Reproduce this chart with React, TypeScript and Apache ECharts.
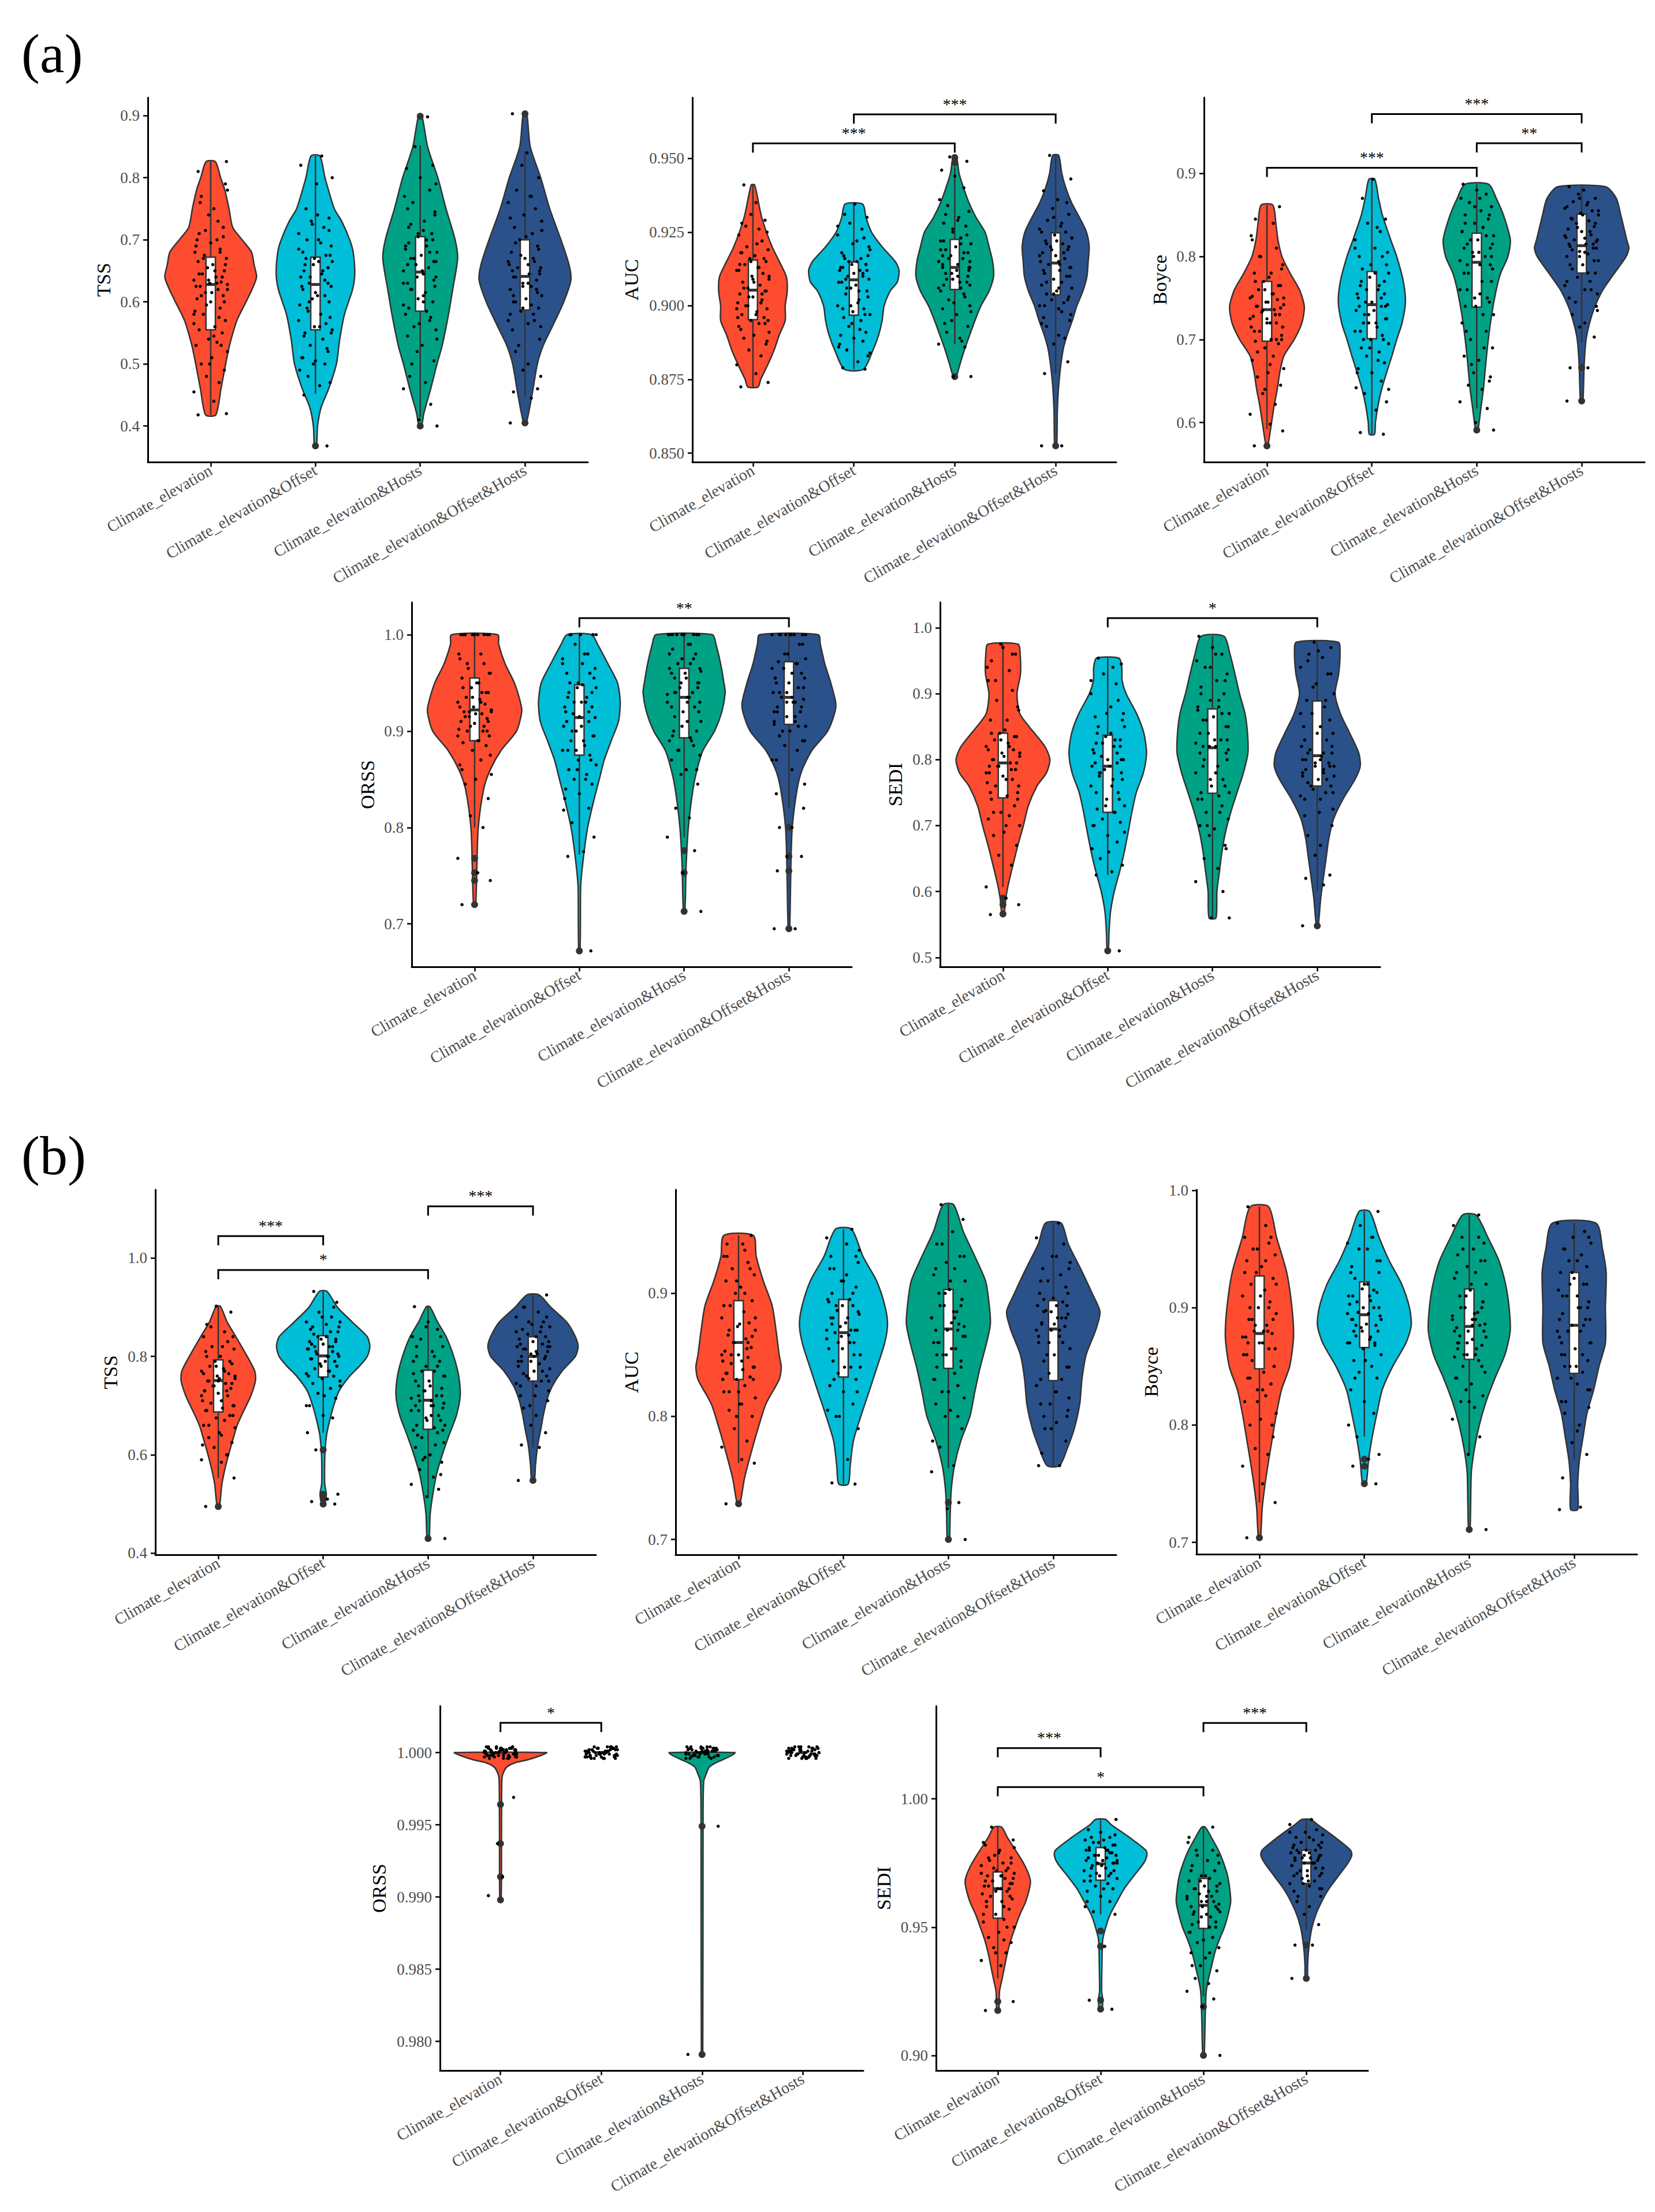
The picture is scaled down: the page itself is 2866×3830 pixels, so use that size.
import React, { useEffect, useRef } from "react";
import * as echarts from "echarts";

const CATEGORIES = [
  "Climate_elevation",
  "Climate_elevation&Offset",
  "Climate_elevation&Hosts",
  "Climate_elevation&Offset&Hosts",
];
const FILLS = ["#FD4C2F", "#00BED8", "#00A285", "#2A5189"];
const FONT = "Liberation Serif";

// fixed jitter offsets (category units)
const JITTER = [-0.12, 0.15, 0.03, -0.16, 0.08, -0.04, 0.13, -0.09, 0.01, 0.16, -0.14, 0.06, -0.02, 0.11, -0.11, 0.04, 0.14, -0.07, -0.15, 0.09, 0.0, -0.13, 0.12, -0.05, 0.07, -0.1, 0.16, -0.01, 0.1, -0.16, 0.05, -0.08, 0.13, -0.03, 0.02, -0.12, 0.15, -0.06, 0.09, -0.14, 0.06, -0.11, 0.12, -0.02, 0.03, -0.09, 0.14];

// ---------- violin profiles: [value, half-width in category units] ----------
const VIOLIN_A1 = [
  [[.418,.049],[.46,.098],[.50,.143],[.53,.18],[.57,.25],[.60,.337],[.62,.394],[.64,.438],[.66,.414],[.68,.39],[.70,.30],[.72,.21],[.75,.175],[.78,.135],[.80,.095],[.826,.044]],
  [[.368,.01],[.40,.02],[.43,.054],[.46,.126],[.50,.20],[.54,.232],[.58,.277],[.62,.354],[.645,.375],[.68,.36],[.70,.327],[.73,.25],[.75,.18],[.80,.091],[.835,.042]],
  [[.40,.013],[.42,.034],[.46,.10],[.50,.16],[.53,.21],[.58,.27],[.62,.31],[.67,.357],[.70,.333],[.75,.246],[.80,.168],[.85,.07],[.899,.017]],
  [[.405,.013],[.45,.067],[.50,.118],[.53,.175],[.56,.26],[.60,.37],[.635,.438],[.66,.42],[.70,.343],[.75,.236],[.80,.15],[.85,.05],[.903,.017]],
];
const VIOLIN_A2 = [
  [[.8725,.052],[.875,.077],[.88,.147],[.885,.21],[.89,.26],[.895,.32],[.90,.32],[.905,.34],[.91,.33],[.92,.19],[.93,.087],[.941,.017]],
  [[.8785,.095],[.885,.19],[.89,.245],[.895,.28],[.90,.30],[.905,.36],[.908,.43],[.912,.448],[.915,.41],[.92,.28],[.925,.175],[.93,.12],[.9345,.087]],
  [[.876,.014],[.88,.05],[.885,.095],[.89,.147],[.895,.20],[.90,.26],[.905,.34],[.91,.385],[.915,.375],[.92,.34],[.925,.30],[.93,.21],[.935,.14],[.94,.087],[.945,.042],[.9505,.017]],
  [[.8525,.01],[.865,.017],[.875,.035],[.885,.073],[.89,.113],[.895,.165],[.90,.21],[.905,.27],[.91,.31],[.915,.322],[.92,.332],[.925,.305],[.93,.235],[.935,.157],[.94,.10],[.945,.06],[.951,.03]],
];
const VIOLIN_A3 = [
  [[.572,.007],[.58,.02],[.60,.044],[.62,.068],[.64,.098],[.66,.122],[.68,.16],[.70,.26],[.72,.333],[.74,.356],[.76,.31],[.78,.22],[.80,.143],[.82,.105],[.84,.085],[.862,.056]],
  [[.586,.025],[.60,.034],[.62,.058],[.64,.093],[.66,.14],[.68,.19],[.70,.237],[.72,.288],[.745,.32],[.77,.30],[.80,.237],[.82,.18],[.85,.10],[.87,.064],[.893,.028]],
  [[.591,.01],[.60,.022],[.62,.042],[.64,.063],[.67,.085],[.70,.11],[.73,.142],[.76,.186],[.78,.228],[.80,.297],[.82,.32],[.85,.254],[.87,.186],[.887,.113]],
  [[.626,.01],[.64,.017],[.67,.024],[.70,.042],[.72,.076],[.74,.127],[.76,.203],[.78,.313],[.80,.424],[.81,.45],[.82,.43],[.85,.373],[.87,.33],[.884,.228]],
];
const VIOLIN_A4 = [
  [[.72,.01],[.76,.022],[.80,.035],[.84,.087],[.86,.15],[.88,.253],[.90,.40],[.92,.45],[.93,.437],[.95,.38],[.97,.29],[.99,.23],[1.0,.22]],
  [[.672,.006],[.70,.01],[.74,.013],[.77,.04],[.80,.079],[.83,.142],[.85,.19],[.87,.237],[.89,.304],[.91,.373],[.93,.39],[.95,.364],[.97,.272],[.99,.174],[1.0,.118]],
  [[.713,.006],[.73,.013],[.76,.019],[.80,.04],[.84,.085],[.86,.123],[.88,.18],[.90,.29],[.92,.36],[.94,.392],[.95,.38],[.97,.348],[.99,.304],[1.0,.27]],
  [[.695,.006],[.72,.013],[.76,.019],[.80,.032],[.84,.079],[.86,.127],[.88,.22],[.90,.37],[.92,.44],[.93,.446],[.95,.40],[.97,.342],[.99,.30],[1.0,.28]],
];
const VIOLIN_A5 = [
  [[.565,.01],[.59,.027],[.61,.05],[.64,.095],[.67,.142],[.70,.195],[.73,.242],[.76,.325],[.78,.415],[.80,.448],[.82,.40],[.85,.25],[.87,.16],[.90,.134],[.93,.167],[.96,.164],[.975,.145]],
  [[.51,.006],[.54,.013],[.57,.027],[.60,.062],[.63,.113],[.66,.158],[.69,.195],[.72,.23],[.75,.272],[.78,.34],[.81,.37],[.84,.345],[.87,.275],[.90,.175],[.92,.137],[.94,.134],[.954,.107]],
  [[.56,.033],[.60,.042],[.63,.066],[.66,.09],[.69,.124],[.72,.174],[.75,.234],[.78,.295],[.81,.338],[.84,.334],[.87,.31],[.90,.258],[.93,.214],[.96,.167],[.987,.11]],
  [[.548,.007],[.56,.017],[.59,.033],[.62,.058],[.65,.084],[.68,.11],[.71,.155],[.74,.245],[.77,.36],[.79,.41],[.81,.396],[.84,.31],[.87,.22],[.90,.17],[.93,.204],[.96,.217],[.978,.20]],
];
const VIOLIN_B1 = [
  [[.495,.01],[.51,.02],[.54,.034],[.57,.062],[.60,.098],[.63,.138],[.66,.18],[.69,.244],[.72,.31],[.75,.354],[.77,.348],[.80,.276],[.84,.168],[.87,.084],[.902,.02]],
  [[.50,.013],[.52,.03],[.54,.015],[.56,.013],[.60,.016],[.64,.032],[.67,.062],[.70,.10],[.73,.152],[.76,.253],[.78,.345],[.80,.42],[.82,.445],[.84,.42],[.87,.276],[.90,.135],[.932,.037]],
  [[.43,.01],[.48,.02],[.52,.045],[.56,.08],[.60,.135],[.64,.20],[.68,.27],[.72,.306],[.76,.292],[.80,.244],[.84,.172],[.87,.09],[.901,.017]],
  [[.548,.013],[.58,.024],[.62,.045],[.65,.073],[.68,.098],[.71,.13],[.74,.185],[.77,.276],[.80,.404],[.82,.43],[.84,.404],[.87,.32],[.90,.17],[.925,.058]],
];
const VIOLIN_B2 = [
  [[.729,.013],[.75,.057],[.77,.118],[.79,.185],[.81,.26],[.83,.387],[.84,.407],[.85,.387],[.87,.357],[.89,.32],[.91,.236],[.93,.168],[.947,.14]],
  [[.745,.045],[.76,.064],[.78,.094],[.80,.165],[.82,.243],[.84,.32],[.86,.394],[.875,.42],[.89,.394],[.91,.316],[.93,.185],[.952,.077]],
  [[.70,.01],[.72,.017],[.74,.027],[.76,.058],[.78,.118],[.80,.205],[.82,.252],[.84,.303],[.86,.365],[.875,.40],[.89,.39],[.91,.354],[.93,.252],[.95,.143],[.972,.05]],
  [[.76,.06],[.775,.138],[.79,.20],[.81,.252],[.83,.273],[.85,.313],[.87,.404],[.885,.445],[.90,.37],[.92,.26],[.94,.143],[.957,.075]],
];
const VIOLIN_B3 = [
  [[.704,.01],[.73,.027],[.75,.054],[.77,.088],[.79,.125],[.81,.163],[.83,.21],[.85,.288],[.875,.325],[.90,.31],[.93,.26],[.96,.163],[.986,.088]],
  [[.75,.017],[.77,.04],[.79,.075],[.81,.12],[.83,.17],[.85,.27],[.87,.397],[.885,.447],[.90,.43],[.92,.356],[.94,.237],[.96,.14],[.982,.05]],
  [[.711,.007],[.73,.013],[.76,.02],[.78,.05],[.80,.096],[.82,.16],[.84,.245],[.86,.34],[.88,.39],[.90,.38],[.92,.346],[.94,.283],[.96,.177],[.979,.064]],
  [[.728,.034],[.75,.034],[.77,.05],[.79,.085],[.81,.122],[.83,.186],[.85,.237],[.87,.298],[.90,.298],[.93,.305],[.95,.27],[.972,.208]],
];
const VIOLIN_B4 = [
  [[.9898,.007],[.994,.01],[.998,.013],[.9985,.023],[.999,.063],[.9993,.148],[.9995,.27],[.9998,.40],[1.0,.457]],
  [],
  [[.979,.007],[.995,.01],[.998,.016],[.9985,.04],[.999,.072],[.9993,.138],[.9995,.204],[.9998,.293],[1.0,.326]],
  [],
];
const VIOLIN_B5 = [
  [[.9175,.01],[.925,.017],[.93,.043],[.935,.068],[.94,.094],[.945,.127],[.95,.17],[.955,.216],[.96,.272],[.967,.317],[.97,.306],[.975,.25],[.98,.173],[.985,.093],[.989,.037]],
  [[.918,.013],[.922,.02],[.925,.01],[.935,.013],[.945,.02],[.95,.05],[.955,.093],[.96,.16],[.965,.23],[.97,.323],[.975,.42],[.978,.45],[.98,.44],[.985,.28],[.99,.102],[.992,.048]],
  [[.90,.007],[.915,.017],[.925,.027],[.93,.05],[.935,.08],[.94,.11],[.945,.153],[.95,.204],[.955,.24],[.96,.265],[.965,.255],[.97,.235],[.975,.196],[.98,.145],[.985,.077],[.989,.017]],
  [[.93,.01],[.935,.013],[.94,.02],[.945,.034],[.95,.056],[.955,.094],[.96,.15],[.965,.221],[.97,.313],[.975,.405],[.978,.442],[.98,.43],[.985,.28],[.99,.11],[.992,.042]],
];

// ---------- boxplots: [lower whisker, Q1, median, Q3, upper whisker] ----------
const BOX_A1 = [[.418,.555,.628,.672,.826],[.452,.555,.628,.672,.835],[.414,.585,.648,.705,.852],[.447,.587,.641,.70,.843]];
const BOX_A2 = [[.8725,.8953,.9053,.9155,.941],[.8785,.8968,.9088,.9148,.9345],[.887,.9055,.913,.9225,.947],[.877,.9037,.9145,.9247,.951]];
const BOX_A3 = [[.592,.698,.736,.77,.862],[.586,.701,.742,.782,.893],[.617,.739,.793,.828,.887],[.697,.78,.813,.851,.884]];
const BOX_A4 = [[.80,.89,.922,.955,1],[.772,.875,.914,.948,1],[.79,.893,.935,.965,1],[.82,.907,.935,.972,1]];
const BOX_A5 = [[.607,.742,.795,.84,.975],[.625,.72,.79,.837,.954],[.56,.749,.818,.877,.987],[.60,.76,.806,.889,.978]];
const BOX_B1 = [[.553,.687,.751,.793,.902],[.645,.758,.801,.842,.932],[.518,.652,.711,.772,.901],[.615,.75,.80,.84,.925]];
const BOX_B2 = [[.762,.83,.86,.894,.947],[.745,.832,.868,.895,.952],[.758,.839,.871,.903,.972],[.76,.829,.871,.894,.957]];
const BOX_B3 = [[.734,.848,.878,.927,.986],[.79,.866,.894,.922,.982],[.775,.856,.884,.916,.979],[.77,.844,.885,.93,.972]];
const BOX_B4 = [[1,1,1,1,1],[1,1,1,1,1],[1,1,1,1,1],[1,1,1,1,1]];
const BOX_B5 = [[.93,.9535,.965,.9715,.989],[.955,.9683,.9747,.981,.992],[.923,.9495,.9585,.969,.989],[.949,.967,.975,.98,.992]];

// ---------- boxplot outliers: [category (1-4), value] ----------
const OUT_A1 = [[2,.368],[3,.899],[3,.400],[4,.903],[4,.405]];
const OUT_A2 = [[3,.876],[3,.9485],[3,.9503],[4,.8525]];
const OUT_A3 = [[1,.572],[3,.591],[4,.666],[4,.626]];
const OUT_A4 = [[1,.768],[1,.753],[1,.745],[1,.72],[2,.672],[3,.776],[3,.753],[3,.713],[4,.80],[4,.77],[4,.755],[4,.695]];
const OUT_A5 = [[1,.59],[1,.58],[1,.566],[2,.51],[4,.548]];
const OUT_B1 = [[1,.495],[2,.61],[2,.52],[2,.51],[2,.50],[3,.43],[4,.548]];
const OUT_B2 = [[1,.729],[3,.73],[3,.70]];
const OUT_B3 = [[1,.704],[2,.771],[2,.765],[2,.75],[3,.711]];
const OUT_B4 = [[1,.9964],[1,.9937],[1,.9914],[1,.9898],[3,.9949],[3,.9791]];
const OUT_B5 = [[1,.921],[1,.9175],[2,.9485],[2,.9425],[2,.9215],[2,.918],[3,.919],[3,.90],[4,.943],[4,.93]];

// ---------- jittered observations per category ----------
const PTS_A1 = [
  [.418,.42,.44,.455,.47,.48,.49,.50,.51,.52,.53,.535,.54,.55,.555,.56,.57,.58,.585,.59,.60,.605,.61,.615,.62,.625,.628,.63,.632,.635,.64,.645,.65,.655,.66,.665,.67,.675,.68,.69,.70,.71,.72,.74,.75,.77,.79,.81,.826,
   .545,.565,.575,.595,.60,.61,.615,.62,.625,.63,.635,.64,.645,.65,.66,.67,.68,.685,.695,.70,.705,.715,.73,.76,.78,.50,.53,.58],
  [.368,.45,.465,.47,.48,.49,.50,.505,.51,.52,.53,.54,.55,.555,.56,.565,.57,.58,.59,.60,.605,.61,.62,.625,.63,.635,.64,.645,.65,.655,.66,.665,.67,.675,.68,.69,.70,.71,.72,.73,.735,.75,.79,.80,.82,.835,
   .50,.525,.545,.56,.575,.585,.595,.61,.615,.625,.63,.64,.65,.66,.665,.67,.675,.685,.695,.70,.715,.725,.74,.51,.55,.60],
  [.40,.41,.435,.46,.47,.50,.505,.52,.53,.545,.555,.56,.57,.58,.585,.59,.60,.605,.61,.62,.625,.63,.64,.645,.65,.655,.66,.665,.67,.675,.68,.69,.70,.705,.71,.72,.73,.74,.76,.77,.78,.80,.815,.82,.85,.898,
   .48,.54,.565,.575,.595,.615,.62,.635,.64,.65,.66,.665,.67,.68,.685,.69,.695,.70,.71,.715,.725,.745,.75,.79,.60,.63],
  [.405,.445,.455,.46,.49,.50,.52,.54,.555,.56,.565,.57,.58,.585,.59,.60,.605,.61,.62,.625,.63,.635,.64,.645,.65,.655,.66,.665,.67,.68,.69,.70,.71,.72,.73,.74,.75,.76,.77,.78,.80,.82,.84,.903,
   .48,.53,.57,.58,.595,.61,.615,.625,.63,.64,.645,.65,.655,.66,.665,.67,.675,.685,.695,.705,.715,.735,.77,.59,.62,.60],
];
const PTS_A2 = [
  [.8725,.874,.877,.880,.883,.885,.887,.889,.890,.891,.893,.894,.895,.896,.897,.898,.899,.900,.901,.902,.903,.904,.905,.906,.907,.908,.909,.910,.911,.912,.913,.914,.915,.916,.917,.918,.919,.920,.922,.924,.926,.928,.929,.931,.935,.941,
   .888,.892,.895,.897,.899,.901,.903,.905,.906,.908,.910,.912,.913,.915,.916,.918,.921,.925,.927,.896,.904,.909,.914,.894,.90],
  [.8785,.879,.881,.883,.885,.886,.888,.889,.890,.891,.893,.895,.896,.897,.898,.899,.900,.902,.904,.905,.906,.907,.908,.909,.910,.911,.912,.912,.913,.914,.914,.915,.916,.917,.918,.920,.922,.924,.926,.928,.930,.931,.9345,
   .884,.887,.892,.894,.897,.899,.901,.903,.906,.908,.910,.911,.913,.914,.915,.916,.917,.919,.921,.923,.927,.905,.909,.912,.900],
  [.876,.876,.886,.887,.889,.891,.893,.895,.897,.899,.900,.902,.904,.905,.906,.907,.908,.909,.910,.911,.912,.913,.913,.914,.915,.916,.917,.918,.919,.920,.921,.922,.923,.925,.927,.928,.930,.932,.934,.936,.940,.944,.946,.949,.9505,
   .888,.894,.898,.901,.903,.906,.908,.909,.910,.911,.912,.914,.915,.916,.918,.919,.921,.922,.924,.926,.929,.931,.913,.917,.907],
  [.8525,.8525,.877,.881,.887,.890,.893,.895,.896,.897,.899,.900,.901,.902,.903,.904,.905,.906,.907,.908,.909,.910,.911,.912,.913,.914,.915,.916,.917,.918,.919,.920,.921,.922,.923,.924,.925,.926,.927,.929,.931,.933,.936,.939,.943,.951,
   .889,.894,.898,.900,.902,.904,.906,.908,.910,.912,.913,.915,.917,.918,.919,.920,.921,.922,.923,.925,.928,.930,.935,.911,.914],
];
const PTS_A3 = [
  [.572,.59,.598,.61,.622,.635,.645,.655,.66,.665,.675,.68,.69,.695,.698,.70,.705,.71,.715,.72,.725,.728,.73,.733,.736,.74,.742,.745,.748,.75,.755,.76,.765,.77,.775,.78,.79,.80,.81,.82,.84,.845,.86,
   .64,.67,.685,.70,.71,.715,.72,.725,.73,.735,.738,.74,.745,.75,.752,.755,.76,.765,.77,.78,.785,.80,.825,.70,.72],
  [.586,.588,.615,.625,.635,.642,.65,.66,.665,.672,.68,.685,.69,.695,.70,.705,.71,.715,.72,.725,.73,.735,.74,.742,.745,.75,.755,.76,.765,.77,.775,.78,.785,.79,.80,.805,.81,.82,.83,.84,.845,.87,.893,
   .64,.66,.675,.69,.70,.71,.72,.725,.73,.735,.74,.745,.75,.755,.76,.765,.77,.78,.79,.80,.81,.835,.70,.74,.72],
  [.591,.6,.617,.625,.64,.645,.655,.66,.675,.68,.69,.70,.71,.72,.73,.74,.745,.75,.755,.76,.77,.78,.785,.79,.795,.80,.805,.81,.815,.82,.825,.83,.835,.84,.845,.85,.855,.86,.865,.87,.875,.88,.887,
   .65,.67,.69,.71,.73,.74,.75,.76,.77,.78,.79,.80,.805,.81,.815,.82,.825,.83,.835,.84,.85,.86,.87,.79,.80],
  [.626,.666,.666,.703,.715,.72,.73,.74,.75,.755,.76,.765,.77,.775,.78,.785,.79,.795,.80,.803,.806,.81,.812,.815,.818,.82,.823,.826,.83,.833,.836,.84,.843,.846,.85,.852,.855,.858,.862,.866,.87,.875,.88,.884,
   .735,.745,.76,.77,.78,.79,.795,.80,.805,.808,.81,.815,.82,.822,.825,.83,.835,.84,.845,.85,.855,.86,.865,.87,.815],
];
const PTS_A4 = [
  [.72,.745,.753,.768,.80,.812,.83,.845,.85,.855,.865,.87,.88,.885,.888,.89,.895,.90,.902,.905,.908,.91,.913,.915,.918,.92,.922,.925,.928,.93,.933,.935,.94,.945,.95,.955,.96,.965,.97,.975,.98,1,1,1,1,1,1,
   .86,.875,.89,.895,.90,.905,.91,.915,.918,.92,.925,.93,.935,.94,.945,.95,.96,.97,.98,1,1,1,.90,.92,.94],
  [.672,.77,.775,.79,.805,.818,.82,.835,.84,.845,.85,.855,.86,.865,.87,.875,.88,.885,.89,.895,.90,.905,.91,.914,.918,.92,.925,.93,.935,.94,.945,.948,.95,.955,.96,.965,.97,.975,.98,.99,1,1,1,1,
   .83,.85,.86,.87,.88,.89,.895,.90,.905,.91,.915,.92,.925,.93,.935,.94,.945,.95,.96,.97,.98,1,1,.88,.93],
  [.713,.753,.776,.79,.81,.82,.845,.855,.86,.87,.875,.88,.885,.89,.893,.895,.90,.905,.91,.915,.92,.925,.93,.935,.938,.94,.945,.95,.955,.96,.962,.965,.97,.975,.98,.985,.99,1,1,1,1,1,1,
   .86,.88,.89,.90,.91,.92,.925,.93,.935,.94,.945,.95,.955,.96,.965,.97,.975,.98,.99,1,1,1,.93,.94,.95],
  [.695,.695,.755,.77,.77,.80,.80,.82,.835,.845,.86,.87,.88,.885,.89,.895,.90,.905,.907,.91,.915,.92,.925,.93,.933,.935,.94,.945,.95,.955,.96,.965,.97,.972,.975,.98,.99,1,1,1,1,1,1,
   .87,.89,.90,.905,.91,.915,.92,.925,.93,.935,.94,.945,.95,.955,.96,.965,.97,.98,.99,1,1,1,.92,.93,.94],
];
const PTS_A5 = [
  [.565,.58,.59,.607,.64,.655,.67,.685,.69,.70,.71,.715,.72,.73,.74,.745,.75,.76,.765,.77,.775,.78,.785,.79,.795,.80,.805,.81,.815,.82,.825,.83,.835,.84,.845,.86,.875,.89,.905,.92,.935,.95,.96,.975,
   .70,.72,.74,.75,.76,.77,.78,.785,.79,.795,.80,.805,.81,.815,.82,.83,.835,.84,.86,.88,.92,.94,.96,.97,.79],
  [.51,.625,.63,.64,.65,.665,.675,.685,.70,.705,.71,.72,.725,.73,.74,.75,.76,.77,.775,.78,.785,.79,.795,.80,.805,.81,.815,.82,.825,.83,.835,.84,.85,.86,.865,.87,.88,.90,.915,.93,.945,.954,
   .66,.69,.70,.72,.73,.74,.75,.76,.77,.78,.79,.795,.80,.81,.82,.825,.83,.84,.85,.87,.89,.92,.94,.78,.80],
  [.56,.56,.60,.615,.635,.65,.665,.685,.695,.70,.71,.72,.73,.74,.745,.75,.76,.77,.78,.79,.80,.81,.815,.82,.825,.83,.84,.85,.86,.865,.87,.875,.88,.89,.90,.91,.92,.93,.94,.95,.96,.97,.987,
   .67,.70,.72,.74,.75,.76,.77,.78,.79,.80,.81,.82,.83,.84,.85,.86,.87,.88,.89,.90,.92,.94,.96,.82,.83],
  [.548,.61,.62,.625,.655,.67,.685,.70,.715,.725,.74,.745,.75,.755,.76,.765,.77,.775,.78,.785,.79,.795,.80,.805,.81,.815,.82,.83,.84,.85,.86,.87,.88,.89,.90,.915,.93,.94,.955,.96,.97,.978,
   .72,.74,.75,.76,.77,.775,.78,.785,.79,.795,.80,.81,.82,.83,.84,.85,.87,.89,.91,.93,.95,.965,.79,.80,.81],
];
const PTS_B1 = [
  [.495,.553,.585,.59,.60,.615,.625,.635,.645,.655,.66,.67,.675,.68,.69,.695,.70,.705,.71,.72,.725,.73,.735,.74,.745,.75,.755,.76,.765,.77,.775,.78,.785,.79,.80,.81,.815,.82,.83,.84,.85,.865,.89,.902,
   .64,.66,.68,.69,.70,.71,.72,.73,.74,.745,.75,.755,.76,.765,.77,.78,.79,.80,.82,.84,.86,.62,.60,.75,.73],
  [.50,.505,.51,.52,.61,.645,.675,.68,.70,.715,.725,.735,.745,.75,.755,.76,.765,.77,.775,.78,.785,.79,.795,.80,.805,.81,.815,.82,.825,.83,.835,.84,.845,.85,.855,.86,.865,.87,.88,.89,.91,.932,
   .72,.74,.76,.77,.78,.79,.795,.80,.805,.81,.815,.82,.825,.83,.835,.84,.85,.86,.87,.88,.90,.70,.80,.82,.78],
  [.43,.515,.53,.54,.555,.57,.585,.595,.60,.615,.625,.635,.645,.65,.655,.66,.67,.675,.68,.69,.695,.70,.705,.71,.715,.72,.73,.735,.74,.75,.76,.765,.77,.78,.79,.80,.81,.82,.835,.84,.855,.87,.901,
   .56,.59,.62,.64,.66,.67,.68,.69,.70,.71,.72,.73,.74,.75,.76,.77,.78,.79,.80,.82,.84,.86,.70,.72,.65],
  [.548,.615,.62,.645,.66,.68,.695,.71,.72,.73,.74,.745,.75,.755,.76,.765,.77,.775,.78,.785,.79,.795,.80,.805,.81,.815,.82,.825,.83,.835,.84,.845,.85,.855,.86,.865,.87,.88,.89,.90,.925,
   .70,.72,.74,.75,.76,.77,.78,.785,.79,.80,.805,.81,.815,.82,.825,.83,.84,.85,.86,.87,.88,.90,.80,.82,.79],
];
const PTS_B2 = [
  [.729,.762,.765,.775,.78,.79,.80,.805,.81,.815,.82,.825,.83,.832,.835,.838,.84,.843,.845,.848,.85,.853,.856,.86,.863,.866,.87,.873,.876,.88,.885,.89,.894,.90,.905,.91,.915,.92,.925,.93,.935,.94,.947,
   .80,.81,.82,.83,.835,.84,.845,.85,.855,.86,.865,.87,.875,.88,.89,.90,.91,.92,.93,.94,.84,.85,.83,.86,.82],
  [.745,.746,.765,.79,.80,.805,.81,.82,.825,.83,.835,.84,.845,.85,.855,.86,.863,.866,.868,.87,.873,.876,.88,.883,.886,.89,.893,.895,.90,.905,.91,.915,.92,.925,.93,.935,.94,.945,.952,
   .80,.82,.83,.84,.85,.855,.86,.865,.87,.875,.88,.885,.89,.895,.90,.91,.92,.93,.86,.87,.88,.84,.89,.85,.87],
  [.70,.725,.73,.755,.76,.775,.79,.80,.805,.81,.815,.82,.825,.83,.835,.84,.845,.85,.855,.86,.865,.87,.873,.876,.88,.885,.89,.895,.90,.903,.91,.915,.92,.925,.93,.94,.95,.96,.972,
   .78,.80,.82,.83,.84,.85,.855,.86,.865,.87,.875,.88,.885,.89,.895,.90,.91,.92,.93,.94,.87,.86,.88,.85,.89],
  [.76,.76,.77,.78,.79,.795,.80,.805,.81,.815,.82,.825,.83,.835,.84,.845,.85,.855,.86,.865,.87,.873,.876,.88,.883,.886,.89,.893,.896,.90,.905,.91,.915,.92,.925,.93,.94,.945,.957,
   .79,.80,.81,.82,.83,.84,.85,.86,.865,.87,.875,.88,.885,.89,.895,.90,.91,.92,.93,.87,.88,.86,.89,.885,.875],
];
const PTS_B3 = [
  [.704,.734,.75,.765,.775,.78,.79,.80,.805,.81,.82,.825,.83,.835,.84,.845,.85,.855,.86,.865,.87,.875,.878,.88,.885,.89,.895,.90,.905,.91,.915,.92,.925,.93,.935,.94,.945,.95,.955,.96,.97,.986,
   .80,.82,.83,.84,.85,.86,.865,.87,.875,.88,.885,.89,.90,.91,.92,.93,.94,.95,.96,.87,.88,.85,.89,.86,.90],
  [.75,.765,.771,.775,.79,.80,.81,.82,.83,.84,.845,.85,.855,.86,.865,.868,.87,.873,.876,.88,.883,.886,.89,.893,.896,.90,.903,.906,.91,.913,.916,.92,.925,.93,.935,.94,.95,.955,.96,.97,.982,
   .84,.855,.86,.87,.875,.88,.885,.89,.895,.90,.905,.91,.915,.92,.93,.94,.95,.96,.88,.89,.90,.87,.895,.91,.885],
  [.711,.775,.79,.805,.815,.82,.825,.83,.835,.84,.845,.85,.855,.858,.86,.865,.868,.87,.873,.876,.88,.883,.886,.89,.893,.896,.90,.905,.91,.915,.92,.925,.93,.935,.94,.945,.95,.955,.96,.97,.979,
   .82,.84,.85,.86,.865,.87,.875,.88,.885,.89,.895,.90,.905,.91,.92,.93,.94,.95,.96,.88,.89,.87,.90,.86,.885],
  [.728,.73,.755,.775,.785,.795,.81,.815,.82,.83,.835,.84,.845,.85,.855,.86,.865,.87,.875,.88,.885,.89,.895,.90,.905,.91,.915,.92,.925,.93,.935,.94,.945,.95,.955,.96,.965,.972,
   .80,.82,.83,.84,.85,.86,.87,.88,.885,.89,.90,.91,.92,.93,.94,.95,.96,.87,.89,.91,.88,.86,.92,.90,.85],
];
const PTS_B4 = [
  [1.0004,1.0002,.9998,1.0001,.9996,1.0003,.9999,1.0,1.0002,.9997,1.0004,1.0001,.9998,1.0003,.9996,1.0,1.0002,.9999,1.0001,.9997,1.0003,.9998,1.0004,1.0,.9996,1.0002,.9999,1.0001,1.0003,.9997,1.0,.9998,.9969,.9937,.9914,.9901,
   1.0001,.9997,1.0003,.9999,1.0002,.9998,1.0004,1.0,.9996,1.0001,.9999,1.0003,.9997,1.0002,1.0,.9998,1.0004,.9999,1.0001,1.0003],
  [1.0003,.9998,1.0001,.9996,1.0004,.9999,1.0002,.9997,1.0,1.0003,.9998,1.0001,.9996,1.0002,.9999,1.0004,.9997,1.0,1.0001,.9998,1.0003,.9996,1.0002,.9999,1.0,1.0004,.9997,1.0001,.9998,1.0003,1.0,.9999,
   1.0002,.9998,1.0,1.0004,.9996,1.0001,.9999,1.0003,.9997,1.0002,1.0,.9998,1.0001,1.0004,.9999,1.0003,.9997,1.0,1.0002,.9996],
  [.9998,1.0003,1.0001,.9996,1.0004,.9999,1.0002,.9997,1.0,1.0003,.9998,1.0001,.9996,1.0002,.9999,1.0004,.9997,1.0,1.0001,.9998,1.0003,.9996,1.0002,.9999,1.0,1.0004,.9997,1.0001,.9998,1.0003,.9949,.9791,
   1.0001,.9999,1.0003,.9997,1.0,1.0002,.9998,1.0004,.9996,1.0001,.9999,1.0003,1.0,.9997,1.0002,.9998,1.0004,1.0001,.9999,1.0002],
  [1.0001,.9997,1.0003,.9999,1.0004,.9996,1.0002,.9998,1.0,1.0003,.9997,1.0001,.9999,1.0004,.9996,1.0002,.9998,1.0,1.0003,.9997,1.0001,.9999,1.0002,.9996,1.0004,.9998,1.0,1.0003,.9997,1.0001,1.0002,.9999,
   .9998,1.0002,1.0,.9996,1.0003,.9999,1.0001,1.0004,.9997,1.0002,1.0,.9998,1.0003,.9999,1.0001,.9996,1.0004,1.0,.9998,1.0002],
];
const PTS_B5 = [
  [.9175,.921,.935,.937,.94,.942,.944,.946,.948,.95,.952,.953,.955,.957,.958,.96,.961,.962,.963,.964,.965,.966,.967,.968,.969,.97,.971,.972,.973,.974,.975,.976,.977,.978,.98,.982,.984,.989,
   .95,.955,.958,.96,.962,.964,.965,.966,.967,.968,.969,.97,.971,.972,.973,.975,.977,.979,.981,.983,.945,.94,.965,.96,.97],
  [.918,.9215,.9425,.955,.956,.958,.96,.962,.964,.965,.966,.967,.968,.969,.97,.971,.972,.973,.974,.975,.975,.976,.977,.978,.978,.979,.98,.98,.981,.982,.983,.984,.985,.986,.988,.992,
   .965,.968,.97,.971,.972,.973,.974,.975,.976,.977,.978,.979,.98,.981,.982,.983,.984,.985,.987,.96,.975,.978,.98,.97,.976],
  [.90,.919,.922,.925,.928,.93,.933,.935,.938,.94,.942,.944,.946,.948,.95,.951,.952,.954,.955,.956,.957,.958,.959,.96,.961,.962,.963,.964,.965,.966,.967,.968,.969,.97,.972,.974,.976,.978,.98,.983,.989,
   .945,.948,.95,.952,.954,.955,.956,.958,.96,.962,.964,.965,.966,.968,.97,.972,.975,.978,.98,.985,.94,.935,.958,.96,.962],
  [.93,.943,.943,.951,.955,.958,.96,.962,.964,.965,.966,.967,.968,.969,.97,.971,.972,.973,.974,.975,.975,.976,.977,.977,.978,.979,.979,.98,.98,.981,.982,.983,.984,.985,.986,.987,.988,.99,.992,
   .962,.965,.967,.968,.97,.971,.972,.973,.974,.975,.976,.977,.978,.979,.98,.981,.982,.983,.985,.987,.975,.977,.978,.96,.97],
];

// ---------- significance brackets: [from cat, to cat, y value, label] ----------
const SIG_A1: any[] = [];
const SIG_A2 = [[1,3,.9551,"***"],[2,4,.9649,"***"]];
const SIG_A3 = [[1,3,.9068,"***"],[3,4,.9363,"**"],[2,4,.9714,"***"]];
const SIG_A4 = [[2,4,1.0172,"**"]];
const SIG_A5 = [[2,4,1.0147,"*"]];
const SIG_B1 = [[1,2,1.0445,"***"],[1,3,.9756,"*"],[3,4,1.1049,"***"]];
const SIG_B2: any[] = [];
const SIG_B3: any[] = [];
const SIG_B4 = [[1,2,1.00206,"*"]];
const SIG_B5 = [[1,2,1.0198,"***"],[1,3,1.0046,"*"],[3,4,1.0296,"***"]];

// ---------- y axis ticks ----------
const YT_A1 = [.4,.5,.6,.7,.8,.9];
const YT_A2 = [.85,.875,.9,.925,.95];
const YT_A3 = [.6,.7,.8,.9];
const YT_A4 = [.7,.8,.9,1.0];
const YT_A5 = [.5,.6,.7,.8,.9,1.0];
const YT_B1 = [.4,.6,.8,1.0];
const YT_B2 = [.7,.8,.9];
const YT_B3 = [.7,.8,.9,1.0];
const YT_B4 = [.98,.985,.99,.995,1.0];
const YT_B5 = [.9,.95,1.0];

const PLOTS = [
  { title: "TSS", dec: 1, yMin: .342, yMax: .929, ticks: YT_A1, v: VIOLIN_A1, b: BOX_A1, o: OUT_A1, p: PTS_A1, s: SIG_A1, pos: [256, 169, 762, 631], gap: 60 },
  { title: "AUC", dec: 3, yMin: .847, yMax: .9706, ticks: YT_A2, v: VIOLIN_A2, b: BOX_A2, o: OUT_A2, p: PTS_A2, s: SIG_A2, pos: [1199, 169, 734, 631], gap: 89 },
  { title: "Boyce", dec: 1, yMin: .5525, yMax: .9913, ticks: YT_A3, v: VIOLIN_A3, b: BOX_A3, o: OUT_A3, p: PTS_A3, s: SIG_A3, pos: [2085, 169, 763, 631], gap: 60 },
  { title: "ORSS", dec: 1, yMin: .6555, yMax: 1.0335, ticks: YT_A4, v: VIOLIN_A4, b: BOX_A4, o: OUT_A4, p: PTS_A4, s: SIG_A4, pos: [713, 1043, 762, 631], gap: 60 },
  { title: "SEDI", dec: 1, yMin: .4858, yMax: 1.0385, ticks: YT_A5, v: VIOLIN_A5, b: BOX_A5, o: OUT_A5, p: PTS_A5, s: SIG_A5, pos: [1628, 1043, 762, 631], gap: 61 },
  { title: "TSS", dec: 1, yMin: .397, yMax: 1.1386, ticks: YT_B1, v: VIOLIN_B1, b: BOX_B1, o: OUT_B1, p: PTS_B1, s: SIG_B1, pos: [269, 2060, 763, 632], gap: 61 },
  { title: "AUC", dec: 1, yMin: .6876, yMax: .9841, ticks: YT_B2, v: VIOLIN_B2, b: BOX_B2, o: OUT_B2, p: PTS_B2, s: SIG_B2, pos: [1170, 2060, 763, 632], gap: 60 },
  { title: "Boyce", dec: 1, yMin: .69, yMax: 1.0005, ticks: YT_B3, v: VIOLIN_B3, b: BOX_B3, o: OUT_B3, p: PTS_B3, s: SIG_B3, pos: [2072, 2060, 763, 631], gap: 62 },
  { title: "ORSS", dec: 3, yMin: .97799, yMax: 1.00322, ticks: YT_B4, v: VIOLIN_B4, b: BOX_B4, o: OUT_B4, p: PTS_B4, s: SIG_B4, pos: [762, 2954, 733, 631], gap: 89 },
  { title: "SEDI", dec: 2, yMin: .8941, yMax: 1.0362, ticks: YT_B5, v: VIOLIN_B5, b: BOX_B5, o: OUT_B5, p: PTS_B5, s: SIG_B5, pos: [1621, 2954, 748, 631], gap: 74 },
];

const OUTLINE = "#333333";
const LABEL_GRAY = "#4D4D4D";
const BOX_HALF = 0.045;
const TIP = 16;

function buildOption() {
  const grid: any[] = [];
  const xAxis: any[] = [];
  const yAxis: any[] = [];
  const series: any[] = [];

  PLOTS.forEach((pl, i) => {
    grid.push({ left: pl.pos[0], top: pl.pos[1], width: pl.pos[2], height: pl.pos[3], containLabel: false });
    xAxis.push({
      gridIndex: i, type: "value", min: 0.4, max: 4.6,
      axisLine: { show: true, onZero: false, lineStyle: { color: "#000", width: 3 } },
      axisTick: { show: true, customValues: [1, 2, 3, 4], length: 8, lineStyle: { color: "#000", width: 2.5 } },
      axisLabel: {
        customValues: [1, 2, 3, 4], rotate: 30, margin: 12, fontSize: 28, color: LABEL_GRAY, fontFamily: FONT,
        formatter: (v: number) => CATEGORIES[Math.round(v) - 1] || "",
      },
      splitLine: { show: false },
    });
    yAxis.push({
      gridIndex: i, type: "value", min: pl.yMin, max: pl.yMax,
      name: pl.title, nameLocation: "middle", nameGap: pl.gap, nameRotate: 90,
      nameTextStyle: { fontSize: 34, color: "#000", fontFamily: FONT },
      axisLine: { show: true, onZero: false, lineStyle: { color: "#000", width: 3 } },
      axisTick: { show: true, customValues: pl.ticks, length: 8, lineStyle: { color: "#000", width: 2.5 } },
      axisLabel: {
        customValues: pl.ticks, margin: 14, fontSize: 27, color: LABEL_GRAY, fontFamily: FONT,
        formatter: (v: number) => v.toFixed(pl.dec),
      },
      splitLine: { show: false },
    });

    const violinData: any[] = [];
    pl.v.forEach((prof: any[], k: number) => {
      if (prof.length) violinData.push([k + 1, pl.b[k][2]]);
    });
    series.push({
      type: "custom", xAxisIndex: i, yAxisIndex: i, z: 2, silent: true,
      data: violinData,
      renderItem: (params: any, api: any) => {
        const c = api.value(0);
        const prof = pl.v[c - 1] as number[][];
        const right = prof.map(([v, w]) => api.coord([c + w, v]));
        const left = prof.slice().reverse().map(([v, w]) => api.coord([c - w, v]));
        return {
          type: "polygon",
          shape: { points: right.concat(left), smooth: 0.25 },
          style: { fill: FILLS[c - 1], stroke: OUTLINE, lineWidth: 2.5 },
        };
      },
    });

    series.push({
      type: "custom", xAxisIndex: i, yAxisIndex: i, z: 3, silent: true,
      data: pl.b.map((bx: number[], k: number) => [k + 1, ...bx]),
      renderItem: (params: any, api: any) => {
        const c = api.value(0);
        const lo = api.value(1), q1 = api.value(2), md = api.value(3), q3 = api.value(4), hi = api.value(5);
        const pLo = api.coord([c, lo]);
        const pHi = api.coord([c, hi]);
        const tl = api.coord([c - BOX_HALF, q3]);
        const br = api.coord([c + BOX_HALF, q1]);
        const ml = api.coord([c - BOX_HALF, md]);
        const mr = api.coord([c + BOX_HALF, md]);
        return {
          type: "group",
          children: [
            { type: "line", shape: { x1: pLo[0], y1: pLo[1], x2: pHi[0], y2: pHi[1] }, style: { stroke: OUTLINE, lineWidth: 2.5 } },
            { type: "rect", shape: { x: tl[0], y: tl[1], width: br[0] - tl[0], height: br[1] - tl[1] }, style: { fill: "#fff", stroke: OUTLINE, lineWidth: 2.5 } },
            { type: "line", shape: { x1: ml[0], y1: ml[1], x2: mr[0], y2: mr[1] }, style: { stroke: OUTLINE, lineWidth: 5 } },
          ],
        };
      },
    });

    series.push({
      type: "scatter", xAxisIndex: i, yAxisIndex: i, z: 4, silent: true,
      symbolSize: 12, itemStyle: { color: OUTLINE, opacity: 1 },
      data: pl.o.map(([c, v]: number[]) => [c, v]),
    });

    const pts: number[][] = [];
    pl.p.forEach((vals: number[], k: number) => {
      vals.forEach((v, j) => {
        pts.push([k + 1 + JITTER[(j + k * 13) % JITTER.length], v]);
      });
    });
    series.push({
      type: "scatter", xAxisIndex: i, yAxisIndex: i, z: 5, silent: true,
      symbolSize: 5.5, itemStyle: { color: "#000", opacity: 1 },
      data: pts,
    });

    if (pl.s.length) {
      series.push({
        type: "custom", xAxisIndex: i, yAxisIndex: i, z: 6, silent: true,
        data: pl.s.map((s: any[]) => [s[0], s[2], s[1]]),
        renderItem: (params: any, api: any) => {
          const c1 = api.value(0), y = api.value(1), c2 = api.value(2);
          const a = api.coord([c1, y]);
          const b = api.coord([c2, y]);
          const label = pl.s[params.dataIndex][3];
          return {
            type: "group",
            children: [
              { type: "polyline", shape: { points: [[a[0], a[1] + TIP], a, b, [b[0], b[1] + TIP]] }, style: { stroke: "#000", lineWidth: 3, fill: null } },
              { type: "text", x: (a[0] + b[0]) / 2, y: a[1] - 4, style: { text: label, font: `28px "${FONT}"`, fill: "#000", align: "center", verticalAlign: "bottom" } },
            ],
          };
        },
      });
    }
  });

  return {
    animation: false,
    backgroundColor: "#ffffff",
    textStyle: { fontFamily: FONT },
    grid, xAxis, yAxis, series,
    graphic: [
      { type: "text", left: 37, top: 44, style: { text: "(a)", font: `96px "${FONT}"`, fill: "#000" } },
      { type: "text", left: 37, top: 1952, style: { text: "(b)", font: `96px "${FONT}"`, fill: "#000" } },
    ],
  };
}

export default function App() {
  const ref = useRef<HTMLDivElement>(null);
  useEffect(() => {
    if (!ref.current) return;
    const chart = echarts.init(ref.current, undefined, { renderer: "svg" });
    chart.setOption(buildOption() as any);
    return () => chart.dispose();
  }, []);
  return (
    <div
      ref={ref}
      style={{ position: "absolute", left: 0, top: 0, width: 2866, height: 3830, background: "#fff" }}
    />
  );
}
